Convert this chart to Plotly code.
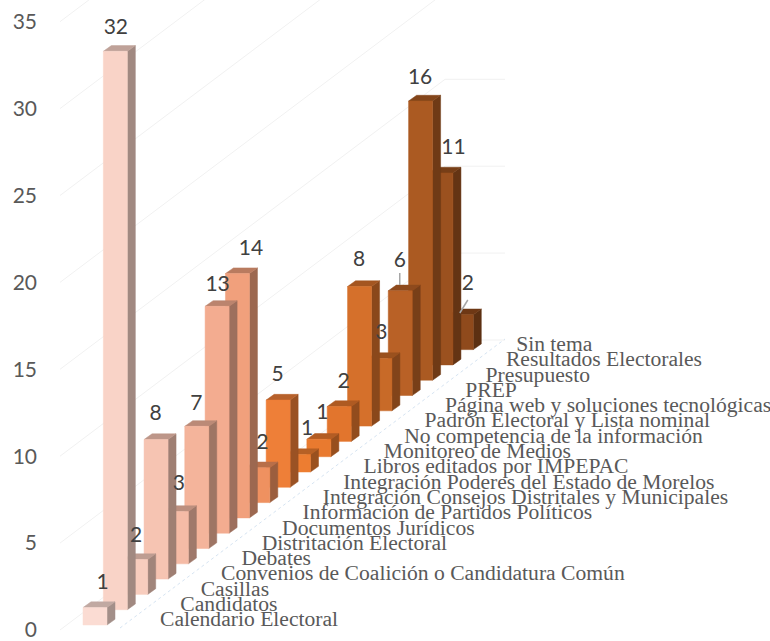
import plotly.graph_objects as go

categories = ["Calendario Electoral", "Candidatos", "Casillas", "Convenios de Coalición o Candidatura Común",
              "Debates", "Distritación Electoral", "Documentos Jurídicos", "Información de Partidos Políticos",
              "Integración Consejos Distritales y Municipales", "Integración Poderes del Estado de Morelos",
              "Libros editados por IMPEPAC", "Monitoreo de Medios", "No competencia de la información",
              "Padrón Electoral y Lista nominal", "Página web y soluciones tecnológicas", "PREP",
              "Presupuesto", "Resultados Electorales", "Sin tema"]
values = [1, 32, 2, 8, 3, 7, 13, 14, 2, 5, 1, 1, 2, 8, 3, 6, 16, 11, 2]
tick_values = [0, 5, 10, 15, 20, 25, 30, 35]
tick_labels = ["0", "5", "10", "15", "20", "25", "30", "35"]

front_colors = ["#FBDCD3", "#F9D3C7", "#F8CDBE", "#F6C4B2", "#F5BBA6", "#F4B49B", "#F3AC90", "#F1A07C",
                "#EF9160", "#EE7F38", "#ED7D31", "#E97A2F", "#E2752D", "#D5702B", "#C86A28", "#B96126",
                "#AB5A22", "#9B511F", "#8F4A1C"]
label_nudge_x = [3, -4, -4, -5, -2, -5, -4, 9, 0, -5, 4, -1, 0, -5, -3, -5, -5, 8, 2]  # px
label_nudge_y = [1, 2, 2, 0, -2, 3, 4, 1, 1, 0, 0, -1, 1, -1, 0, -4, 2, 0, -5]  # px

# geometry (screen px per unit)
PX_X, PX_Y = 20.35, 17.38
L, W, H = 40, 770, 641
X0_PX, Y0_PX = 83, 630
STEP_Y = 15.3 / PX_Y
BASE_Y = 5 / PX_Y
BAR_W = 24 / PX_X
DEPTH_X, DEPTH_Y = 8 / PX_X, 5.7 / PX_Y
HSCALE = 17.45 / PX_Y


def shade(c, f):
    r, g, b = int(c[1:3], 16), int(c[3:5], 16), int(c[5:7], 16)
    return "#%02X%02X%02X" % (int(r * f), int(g * f), int(b * f))


def px_x(p):
    return (p - X0_PX) / PX_X


def px_y(p):
    return (Y0_PX - p) / PX_Y


fig = go.Figure()


def line(xs, ys, color, width=1, dash="solid"):
    fig.add_trace(go.Scatter(x=xs, y=ys, mode="lines", line=dict(color=color, width=width, dash=dash),
                             hoverinfo="skip", showlegend=False))


# faint walls and floor
wall_rise = 290 / PX_Y
for v in tick_values:
    line([px_x(60), px_x(445), px_x(505)], [v, v + wall_rise, v + wall_rise], "#F1F1F1")
line([px_x(120), px_x(505)], [px_y(628), px_y(339)], "#D6E4F2", 1, "dot")


def face(xs, ys, color):
    fig.add_trace(go.Scatter(x=xs, y=ys, mode="lines", fill="toself", fillcolor=color,
                             line=dict(color=color, width=0.5), hoverinfo="skip", showlegend=False))


# bars drawn back to front
for i in range(len(values) - 1, -1, -1):
    v, c = values[i], front_colors[i]
    b = BASE_Y + STEP_Y * i
    t = b + v * HSCALE
    x0, x1 = i, i + BAR_W
    face([x1, x1 + DEPTH_X, x1 + DEPTH_X, x1, x1], [b, b + DEPTH_Y, t + DEPTH_Y, t, b], shade(c, 0.65))
    face([x0, x0 + DEPTH_X, x1 + DEPTH_X, x1, x0], [t, t + DEPTH_Y, t + DEPTH_Y, t, t], shade(c, 0.77))
    face([x0, x1, x1, x0, x0], [b, b, t, t, b], c)

# data labels
lx, ly = [], []
for i, v in enumerate(values):
    t = BASE_Y + STEP_Y * i + v * HSCALE + DEPTH_Y
    lx.append(i + (16.5 + label_nudge_x[i]) / PX_X)
    ly.append(t + (19 - label_nudge_y[i]) / PX_Y)

# leader lines on the two moved labels
for i, dx, top, bottom in [(15, 0, 11, 23), (18, -8, 15, 28)]:
    line([lx[i], lx[i] + dx / PX_X], [ly[i] - top / PX_Y, ly[i] - bottom / PX_Y], "#A6A6A6", 1.5)

fig.add_trace(go.Scatter(x=lx, y=ly, mode="text", text=[str(v) for v in values], textposition="middle center",
                         textfont=dict(family="Lato", size=21, color="#404040"), hoverinfo="skip", showlegend=False))

# category labels on the floor edge
cx = [px_x(160) + i - (0.5 if i == len(categories) - 1 else 0) for i in range(len(categories))]
cy = [px_y(621) + STEP_Y * i for i in range(len(categories))]
fig.add_trace(go.Scatter(x=cx, y=cy, mode="text", text=categories, textposition="middle right",
                         textfont=dict(family="Liberation Serif", size=21.6, color="#595959"),
                         hoverinfo="skip", showlegend=False))

fig.update_layout(
    width=W, height=H, margin=dict(l=L, r=0, t=0, b=0), autosize=False,
    paper_bgcolor="white", plot_bgcolor="white", showlegend=False,
    xaxis=dict(range=[px_x(L), px_x(W)], visible=False, fixedrange=True),
    yaxis=dict(range=[px_y(H), px_y(0)], tickmode="array", tickvals=tick_values, ticktext=tick_labels,
               showgrid=False, zeroline=False, showline=False, ticks="", ticklabelstandoff=2,
               ticklabeloverflow="allow", tickfont=dict(family="Lato", size=21, color="#595959"), fixedrange=True),
)
fig.write_html("out.html", config=dict(displayModeBar=False),
               post_script="document.body.style.margin='0';document.documentElement.style.overflow='hidden';")
